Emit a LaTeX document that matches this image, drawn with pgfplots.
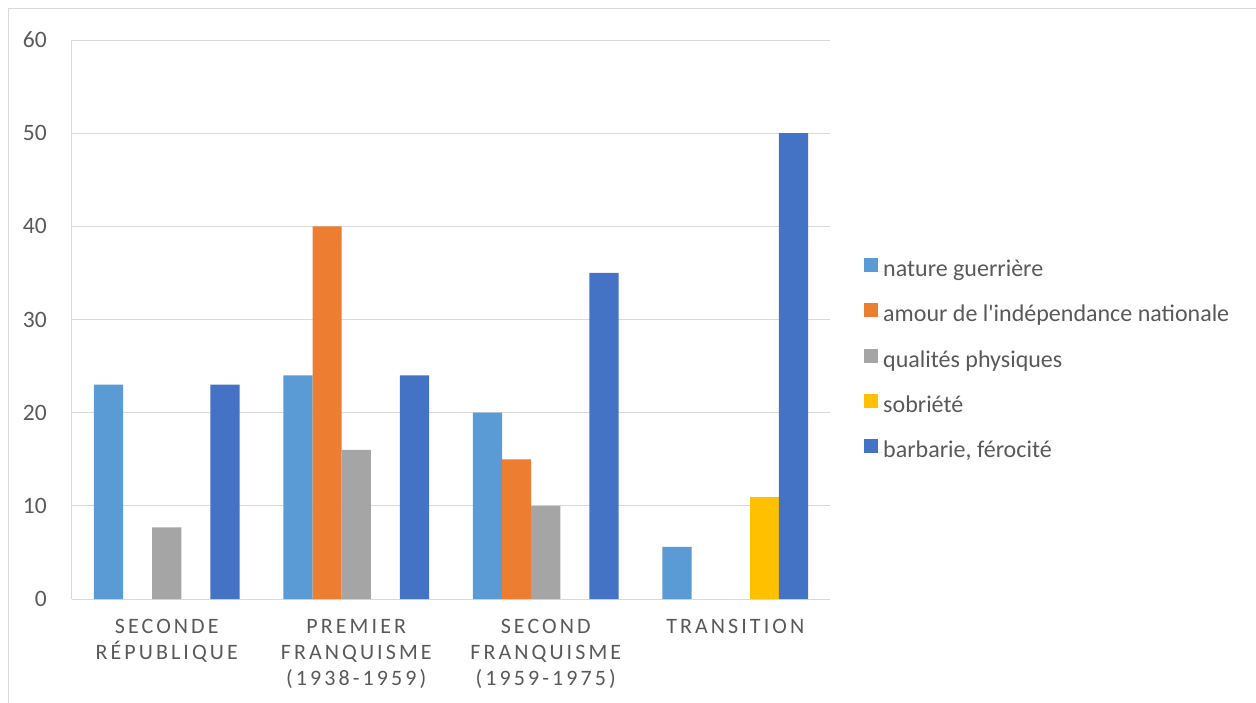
\documentclass[border=0pt]{standalone}
\usepackage{fontspec}
\setmainfont{Carlito}
\newfontfamily\legfont{Carlito}
\newfontfamily\spaced[LetterSpace=14]{Carlito}
\usepackage{pgfplots}
\pgfplotsset{compat=1.18}
\definecolor{cnat}{HTML}{5B9BD5}
\definecolor{camo}{HTML}{ED7D31}
\definecolor{cqua}{HTML}{A5A5A5}
\definecolor{csob}{HTML}{FFC000}
\definecolor{cbar}{HTML}{4472C4}
\definecolor{gridc}{HTML}{D9D9D9}
\definecolor{txt}{HTML}{595959}
\begin{document}
\begin{tikzpicture}
\useasboundingbox (0pt,0pt) rectangle (1256pt,-702pt);
\draw[gridc, line width=1pt] (8pt,-730pt) -- (8pt,-8pt) -- (1290pt,-8pt);
\begin{axis}[
  at={(72pt,-599pt)}, anchor=south west,
  scale only axis, width=758pt, height=559pt,
  xmin=-0.5, xmax=3.5, ymin=0, ymax=60,
  ytick={0,10,...,60},
  xtick={0,1,2,3},
  xticklabels={SECONDE\\RÉPUBLIQUE, PREMIER\\FRANQUISME\\(1938-1959), SECOND\\FRANQUISME\\(1959-1975), TRANSITION},
  axis lines*=left,
  axis line style={draw=gridc, line width=1pt, -},
  major tick length=0pt,
  ymajorgrids, grid style={draw=gridc, line width=1pt},
  /pgf/number format/assume math mode=true,
  yticklabel style={font=\fontsize{23.5}{28}\selectfont, text=txt, inner sep=0pt, xshift=-25pt},
  xticklabel style={font=\spaced\fontsize{22}{25.7}\selectfont, text=txt, align=center, inner sep=0pt, anchor=north, yshift=-20.5pt},
  ybar, bar width=0.153846,
  legend style={draw=none, fill=none, at={(1.0449,0.61)}, anchor=north west,
    font=\legfont\fontsize{24}{28}\selectfont, text=txt, row sep=20.7pt, inner sep=0pt,
    nodes={inner sep=0pt, text height=17pt, text depth=6pt}},
  legend cell align=left,
  legend image code/.code={\draw[#1,/tikz/.cd,draw=none] (0pt,-1pt) rectangle (14pt,13pt);
    \path (0pt,0pt) -- (19pt,0pt);},
]
\addplot[fill=cnat, draw=none, bar shift=-0.307692] coordinates {(0,23) (1,24) (2,20) (3,5.6)};
\addlegendentry{nature guerrière}
\addplot[fill=camo, draw=none, bar shift=-0.153846] coordinates {(1,40) (2,15)};
\addlegendentry{amour de l'indépendance nationale}
\addplot[fill=cqua, draw=none, bar shift=0] coordinates {(0,7.7) (1,16) (2,10)};
\addlegendentry{qualités physiques}
\addplot[fill=csob, draw=none, bar shift=0.153846] coordinates {(3,11)};
\addlegendentry{sobriété}
\addplot[fill=cbar, draw=none, bar shift=0.307692] coordinates {(0,23) (1,24) (2,35) (3,50)};
\addlegendentry{barbarie, férocité}
\end{axis}
\end{tikzpicture}
\end{document}
